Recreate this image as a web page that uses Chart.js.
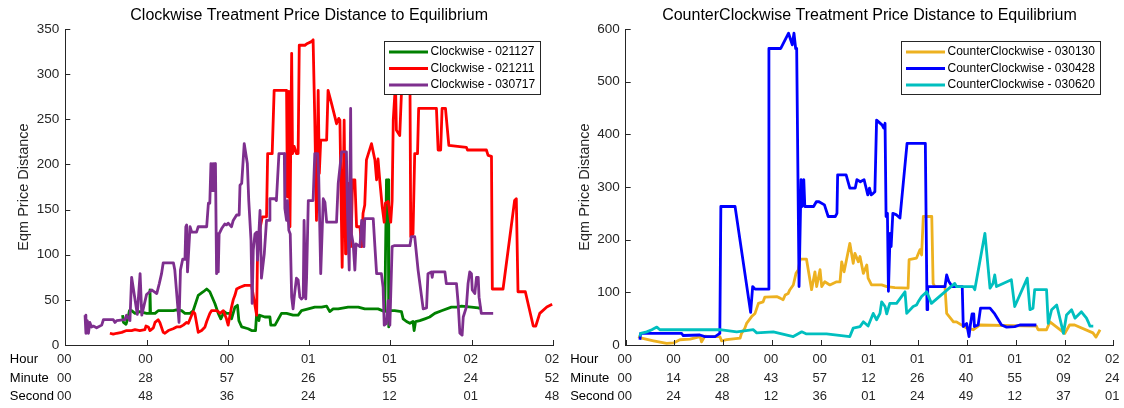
<!DOCTYPE html>
<html>
<head>
<meta charset="utf-8">
<script src="https://cdn.jsdelivr.net/npm/chart.js@4.4.1/dist/chart.umd.min.js"></script>
<style>
  html, body { margin: 0; padding: 0; background: #fff; }
  #wrap { position: relative; width: 1124px; height: 408px; overflow: hidden; }
  canvas { position: absolute; top: 0; }
  #cw { left: 0; }
  #ccw { left: 560px; }
</style>
</head>
<body>
<div id="wrap">
  <canvas id="cw" width="562" height="408"></canvas>
  <canvas id="ccw" width="564" height="408"></canvas>
</div>
<script>
// elapsed session time in minutes, price distance to equilibrium
const CW_021127 = [[20.3,33],[20.6,25],[21.5,23],[22.3,31],[22.7,38],[23.5,38],[24.7,35],[26.4,37],[28.8,35],[29.8,35],[30.0,61],[30.2,35],[31.8,35],[32.9,38],[38.3,38],[39.4,39],[41.2,38],[42.4,35],[44.2,35],[45.3,38],[47.1,55],[48.9,59],[50.1,62],[51.2,59],[53.0,46],[54.2,35],[55.1,29],[56.3,37],[57.1,35],[58.3,35],[58.9,29],[60.1,42],[61.0,44],[61.5,27],[62.5,20],[64.8,18],[66.0,16],[67.4,16],[67.8,35],[68.6,27],[68.9,33],[70.7,31],[72.5,31],[72.8,22],[74.3,22],[76.6,35],[78.4,35],[80.7,33],[82.5,33],[83.7,38],[86.1,40],[88.4,42],[90.8,42],[92.6,43],[93.7,37],[94.9,40],[96.7,40],[100.2,42],[103.8,42],[106.1,40],[110.8,40],[113.2,37],[113.8,183],[114.4,183],[114.6,20],[115.0,38],[116.7,38],[119.1,37],[119.7,29],[120.9,26],[122.1,24],[123.2,26],[123.6,16],[124.1,26],[125.6,27],[127.4,29],[129.1,31],[130.9,35],[133.3,38],[136.8,42],[138.6,42],[140.4,43],[143.9,42],[146.3,41],[147.4,41]];
const CW_021211 = [[15.8,13],[17.0,12],[18.2,13],[20.0,14],[21.7,16],[23.5,16],[24.7,17],[26.4,16],[28.2,17],[28.6,21],[29.4,20],[30.0,16],[31.2,19],[31.8,25],[32.9,28],[33.5,25],[34.7,14],[35.3,13],[36.5,16],[38.2,18],[39.4,20],[40.6,20],[41.8,22],[43.0,25],[43.6,24],[45.3,37],[45.9,35],[47.1,14],[48.3,16],[49.5,20],[50.1,26],[51.2,35],[51.8,38],[53.6,38],[54.2,37],[54.8,35],[56.0,38],[57.1,29],[57.7,22],[58.9,42],[59.5,50],[60.1,55],[60.7,62],[61.9,64],[63.6,66],[66.0,66],[67.8,33],[68.1,101],[68.6,123],[69.8,142],[71.3,142],[71.7,212],[73.3,212],[74.0,282],[78.4,282],[78.7,164],[79.2,281],[79.6,131],[80.2,323],[80.5,212],[81.1,220],[81.9,212],[82.5,212],[82.9,332],[84.9,332],[85.8,334],[87.2,336],[87.8,338],[88.4,249],[89.0,138],[89.6,282],[90.0,190],[90.5,227],[92.6,227],[93.1,282],[94.3,268],[95.5,253],[96.1,245],[96.9,251],[97.3,249],[98.1,86],[98.8,249],[99.3,101],[99.6,101],[100.2,179],[101.2,109],[101.8,183],[102.6,183],[103.2,131],[104.4,131],[105.0,109],[105.5,146],[106.1,155],[106.7,205],[108.5,223],[109.7,205],[110.3,183],[110.8,206],[111.4,183],[112.3,153],[113.0,136],[113.4,157],[114.4,159],[115.3,136],[115.8,160],[116.2,249],[117.0,290],[117.3,238],[118.5,232],[119.1,279],[119.7,304],[122.1,304],[122.4,120],[123.2,123],[123.8,212],[124.8,212],[125.2,262],[131.5,262],[132.1,216],[133.0,216],[133.5,262],[134.7,262],[135.9,221],[142.1,219],[142.5,216],[149.2,216],[149.8,210],[151.0,209],[151.3,62],[155.1,62],[159.2,160],[159.8,162],[160.4,59],[163.0,59],[165.8,21],[166.7,21],[168.1,35],[170.6,42],[172.5,45]];
const CW_030717 = [[7.0,33],[7.3,13],[7.8,27],[8.2,13],[8.7,25],[9.3,20],[9.9,21],[11.1,19],[12.9,22],[13.5,28],[17.0,28],[17.6,25],[18.2,27],[21.1,28],[21.7,33],[22.9,27],[23.5,75],[25.5,34],[26.5,79],[27.1,33],[28.8,56],[30.6,61],[32.4,57],[33.3,68],[34.1,79],[34.7,91],[38.3,91],[38.8,83],[40.3,25],[40.8,83],[41.6,95],[42.4,95],[42.7,131],[43.0,133],[43.3,81],[44.2,131],[44.8,125],[46.5,125],[47.1,131],[50.1,131],[50.7,157],[51.2,157],[51.6,201],[52.1,171],[52.4,201],[52.8,171],[53.2,201],[53.6,79],[54.0,123],[54.2,81],[54.5,123],[55.4,129],[56.5,134],[57.1,133],[57.7,135],[58.9,131],[59.5,138],[60.7,144],[61.6,144],[61.9,177],[62.5,179],[63.4,223],[64.5,201],[65.0,160],[65.8,116],[66.2,46],[66.6,105],[67.2,123],[67.8,125],[68.1,94],[69.0,149],[69.5,74],[70.5,101],[71.3,138],[72.3,138],[72.5,162],[74.3,162],[74.8,160],[75.7,212],[77.6,212],[77.8,151],[78.4,138],[78.7,160],[79.2,127],[79.7,123],[80.2,53],[80.7,40],[81.1,53],[81.9,74],[82.5,72],[83.1,53],[83.7,51],[84.3,53],[84.6,138],[85.2,51],[85.5,75],[86.1,160],[87.8,160],[88.4,212],[89.4,212],[89.8,186],[90.5,79],[91.4,162],[92.0,158],[92.6,136],[96.1,136],[96.7,179],[97.9,214],[99.6,214],[100.0,146],[100.6,83],[101.1,262],[101.4,123],[102.0,112],[102.6,83],[103.0,112],[104.4,109],[105.0,138],[105.8,109],[106.1,140],[109.1,140],[109.7,109],[110.3,79],[112.0,79],[112.6,64],[113.0,22],[113.8,24],[114.4,49],[115.0,22],[115.8,109],[116.5,110],[122.1,110],[122.6,120],[123.8,120],[125.0,83],[126.8,40],[128.0,41],[128.5,79],[129.7,81],[130.0,75],[130.3,81],[134.5,81],[135.0,68],[138.6,68],[139.2,46],[139.8,13],[140.6,11],[141.0,31],[142.1,42],[142.7,68],[143.3,81],[143.9,79],[144.2,61],[145.1,57],[145.7,75],[146.3,75],[146.6,53],[147.4,35],[151.6,35]];

const CCW_030130 = [[3.7,16],[4.7,13],[8.2,8],[12.1,3],[14.1,4],[16.0,10],[19.0,11],[22.0,16],[22.4,6],[23.4,17],[24.9,16],[27.8,16],[28.3,8],[29.8,10],[33.8,13],[34.2,22],[35.2,32],[35.7,41],[37.2,54],[38.2,60],[39.2,79],[40.6,82],[41.1,91],[44.6,92],[45.6,89],[46.5,86],[47.1,95],[48.0,98],[48.5,105],[49.5,114],[50.3,136],[51.0,143],[51.5,163],[53.4,163],[54.9,105],[55.9,139],[56.4,111],[57.4,143],[57.9,111],[58.8,120],[60.3,114],[62.3,120],[63.3,120],[63.8,158],[64.5,139],[66.2,193],[67.2,155],[67.7,174],[68.7,158],[69.2,168],[70.2,136],[71.2,152],[71.6,127],[72.6,114],[75.6,114],[77.1,111],[79.5,109],[83.4,108],[83.7,162],[85.9,165],[86.9,181],[87.4,171],[87.9,244],[90.4,244],[90.8,117],[91.3,111],[94.3,111],[94.8,60],[96.8,44],[97.7,44],[100.7,32],[102.7,29],[104.6,38],[121.3,36],[121.8,29],[124.3,29],[125.3,44],[129.7,22],[131.1,38],[132.6,38],[138.0,23],[138.9,15],[140.1,29]];
const CCW_030428 = [[4.2,10],[4.4,22],[7.2,22],[16.5,22],[17.0,18],[21.9,19],[23.4,16],[26.4,16],[27.8,22],[28.1,263],[32.3,263],[36.9,62],[37.5,111],[38.2,106],[42.1,106],[42.3,563],[45.8,563],[48.1,592],[49.2,570],[49.7,592],[50.2,563],[50.5,563],[51.2,111],[51.8,314],[52.1,263],[52.6,314],[52.9,263],[55.5,263],[56.3,272],[57.1,272],[58.7,266],[59.8,244],[61.9,244],[62.4,250],[62.6,323],[65.1,323],[66.2,298],[67.8,298],[68.3,314],[69.3,310],[70.4,314],[70.9,301],[71.5,285],[72.0,298],[72.5,285],[73.1,288],[73.6,291],[74.1,427],[75.7,418],[76.2,412],[76.6,421],[76.9,244],[77.3,250],[77.6,102],[78.1,212],[78.4,187],[78.9,250],[80.0,247],[81.0,241],[83.1,383],[88.5,383],[89.0,67],[89.2,111],[94.3,111],[94.8,133],[95.4,121],[96.4,111],[99.4,111],[99.7,35],[100.7,41],[101.4,16],[101.8,38],[102.3,59],[102.8,59],[103.0,35],[104.1,38],[104.8,70],[107.6,70],[109.0,59],[111.0,38],[112.5,34],[114.9,35],[116.4,38],[121.3,38]];
const CCW_030620 = [[4.2,16],[4.4,22],[6.2,25],[7.7,29],[9.2,34],[10.1,29],[20.0,29],[27.8,29],[32.8,25],[37.7,29],[38.7,23],[43.6,25],[49.5,16],[52.0,25],[53.4,21],[59.3,21],[66.2,16],[67.2,32],[69.2,35],[70.2,44],[71.6,36],[73.1,60],[74.1,48],[75.1,60],[75.6,82],[76.6,73],[77.1,59],[78.0,79],[80.0,79],[82.5,101],[83.0,60],[84.9,73],[85.9,76],[86.4,82],[87.4,92],[88.9,101],[90.3,79],[97.2,117],[97.7,111],[102.6,111],[103.1,105],[106.1,212],[107.6,108],[108.5,117],[109.0,133],[109.5,111],[110.5,114],[113.9,124],[114.9,73],[118.6,127],[119.4,67],[120.3,70],[120.8,105],[124.3,105],[124.8,41],[125.8,67],[127.3,76],[129.3,22],[130.2,57],[131.7,67],[132.7,51],[134.6,63],[136.1,51],[136.6,44],[137.1,36],[138.1,36]];

// tick labels as hh / mm / ss rows
const CW_HOURS   = ["00", "00", "00", "01", "01", "02", "02"];
const CW_MINUTES = ["00", "28", "57", "26", "55", "24", "52"];
const CW_SECONDS = ["00", "48", "36", "24", "12", "01", "48"];
const CCW_HOURS   = ["00", "00", "00", "00", "00", "01", "01", "01", "01", "02", "02"];
const CCW_MINUTES = ["00", "14", "28", "43", "57", "12", "26", "40", "55", "09", "24"];
const CCW_SECONDS = ["00", "24", "48", "12", "36", "01", "24", "49", "12", "37", "01"];
const ROW_NAMES = ["Hour", "Minute", "Second"];

const FONT = "'Liberation Sans', Arial, Helvetica, sans-serif";
const AXIS = "#262626";
const LINE_W = 2.8;

const toMinutes = (h, m, s) => h.map((v, i) => +v * 60 + +m[i] + +s[i] / 60);

// matlab-ish axes: inward ticks, stacked time labels, title, ylabel, boxed legend
const axesDecor = {
  id: "axesDecor",
  afterDraw(chart, args, o) {
    const { ctx, chartArea: a, scales: { x, y } } = chart;
    ctx.save();
    ctx.strokeStyle = AXIS;
    ctx.lineWidth = 1;
    ctx.beginPath();
    x.ticks.forEach((t) => {
      const px = Math.round(x.getPixelForValue(t.value)) + 0.5;
      ctx.moveTo(px, a.bottom); ctx.lineTo(px, a.bottom - 5);
    });
    y.ticks.forEach((t) => {
      const py = Math.round(y.getPixelForValue(t.value)) + 0.5;
      ctx.moveTo(a.left, py); ctx.lineTo(a.left + 5, py);
    });
    ctx.stroke();

    // time tick labels, one row each for hour, minute, second
    ctx.font = "13px " + FONT;
    ctx.textBaseline = "middle";
    o.rows.forEach((row, r) => {
      const ty = a.bottom + 14.5 + r * 18.5;
      ctx.fillStyle = AXIS;
      ctx.textAlign = "center";
      x.ticks.forEach((t, i) => ctx.fillText(row[i], x.getPixelForValue(t.value) - 1, ty));
      ctx.fillStyle = "#000";
      ctx.textAlign = "left";
      ctx.fillText(ROW_NAMES[r], a.left - 55.5, ty);
    });

    ctx.fillStyle = "#000";
    ctx.textAlign = "center";
    ctx.font = "16px " + FONT;
    ctx.fillText(o.title, (a.left + a.right) / 2, 16);

    ctx.save();
    ctx.translate(a.left - 41, (a.top + a.bottom) / 2);
    ctx.rotate(-Math.PI / 2);
    ctx.fillStyle = AXIS;
    ctx.font = "14.5px " + FONT;
    ctx.fillText("Eqm Price Distance", 0, 0);
    ctx.restore();

    // legend box
    const sets = chart.data.datasets;
    ctx.font = "12px " + FONT;
    const tw = Math.max(...sets.map((d) => ctx.measureText(d.label).width));
    const w = Math.round(46.5 + tw + 5), h = 53;
    const right = Math.round(a.right - 13), top = Math.round(a.top + 12);
    const left = right - w;
    ctx.fillStyle = "#fff";
    ctx.fillRect(left, top, w, h);
    ctx.strokeStyle = AXIS;
    ctx.lineWidth = 1;
    ctx.strokeRect(left + 0.5, top + 0.5, w, h);
    sets.forEach((d, i) => {
      const ly = top + 11 + i * 16.5;
      ctx.strokeStyle = d.borderColor;
      ctx.lineWidth = LINE_W;
      ctx.beginPath(); ctx.moveTo(left + 5, ly); ctx.lineTo(left + 44, ly); ctx.stroke();
      ctx.fillStyle = "#000";
      ctx.textAlign = "left";
      ctx.fillText(d.label, left + 46.5, ly);
    });
    ctx.restore();
  },
};

function series(label, data, color, order) {
  return { label, data, borderColor: color, borderWidth: LINE_W, pointRadius: 0, tension: 0, borderJoinStyle: "round", order };
}

function panel(id, opts) {
  const ticks = toMinutes(...opts.rows);
  return new Chart(document.getElementById(id), {
    type: "line",
    data: { datasets: opts.datasets },
    options: {
      responsive: false,
      animation: false,
      events: [],
      layout: { padding: { top: 29, right: opts.padRight, bottom: 63, left: 0 } },
      scales: {
        x: {
          type: "linear",
          min: 0,
          max: ticks[ticks.length - 1],
          grid: { display: false, drawTicks: false },
          border: { display: true, color: AXIS, width: 1 },
          ticks: { display: false },
          afterBuildTicks: (s) => { s.ticks = ticks.map((value) => ({ value })); },
        },
        y: {
          min: 0,
          max: opts.yMax,
          grid: { display: false, drawTicks: false },
          border: { display: true, color: AXIS, width: 1 },
          ticks: { stepSize: opts.yStep, color: AXIS, padding: 6, font: { size: 13.5, family: FONT } },
          afterFit: (s) => { s.width = opts.yWidth; },
        },
      },
      plugins: {
        legend: { display: false },
        tooltip: { enabled: false },
        axesDecor: { title: opts.title, rows: opts.rows },
      },
    },
    plugins: [axesDecor],
  });
}

panel("cw", {
  title: "Clockwise Treatment Price Distance to Equilibrium",
  rows: [CW_HOURS, CW_MINUTES, CW_SECONDS],
  yMax: 350, yStep: 50, yWidth: 65.3, padRight: 9,
  datasets: [
    series("Clockwise - 021127", CW_021127, "#008000", 2),
    series("Clockwise - 021211", CW_021211, "#FF0000", 1),
    series("Clockwise - 030717", CW_030717, "#7E2F8E", 0),
  ],
});

panel("ccw", {
  title: "CounterClockwise Treatment Price Distance to Equilibrium",
  rows: [CCW_HOURS, CCW_MINUTES, CCW_SECONDS],
  yMax: 600, yStep: 100, yWidth: 65.7, padRight: 10.7,
  datasets: [
    series("CounterClockwise - 030130", CCW_030130, "#EDB120", 2),
    series("CounterClockwise - 030428", CCW_030428, "#0000FF", 1),
    series("CounterClockwise - 030620", CCW_030620, "#00BFBF", 0),
  ],
});
</script>
</body>
</html>
